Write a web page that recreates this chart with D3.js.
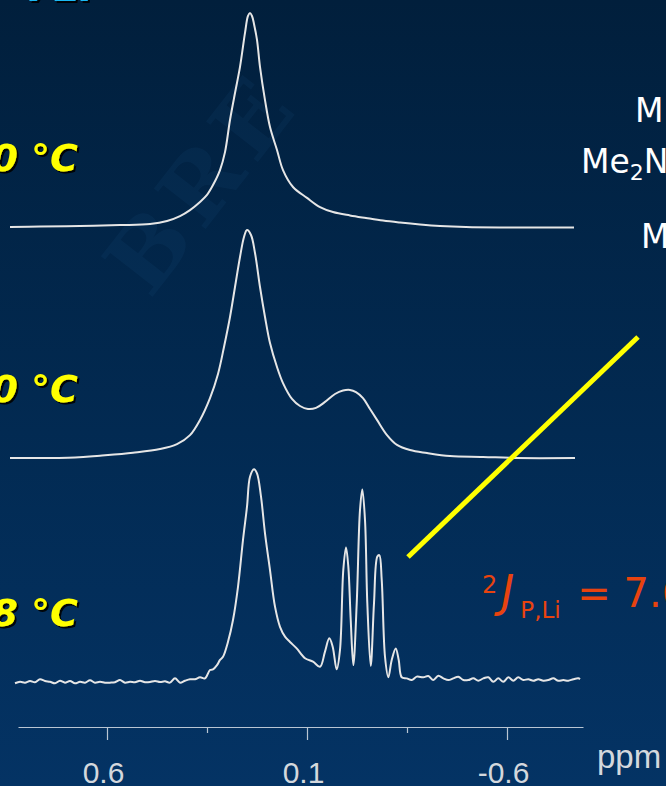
<!DOCTYPE html>
<html>
<head>
<meta charset="utf-8">
<script src="https://cdn.jsdelivr.net/npm/d3@7"></script>
<style>
  html, body { margin: 0; padding: 0; background: #02264a; overflow: hidden; }
  svg { display: block; }
</style>
</head>
<body>
<div id="chart"></div>
<script>
// axis ticks (ppm) and the labels printed under them
const tickPpm = [0.6, 0.35, 0.1, -0.15, -0.4];
const tickLabels = ["0.6", "", "0.1", "", "-0.6"];

// temperature of each trace, top to bottom
const temps = ["\u2212100 \u00b0C", "\u2212110 \u00b0C", "\u2212118 \u00b0C"];

// [ppm, intensity], top trace
const traceTop = [
  [0.8425, 0], [0.7675, 0.2], [0.6675, 0.5], [0.5675, 0.9], [0.4925, 1.4],
  [0.45, 2.8], [0.4175, 5.1], [0.3925, 7.9], [0.3675, 11.7], [0.35, 15.0],
  [0.335, 19.6], [0.3175, 26.6], [0.305, 35.0], [0.2925, 50.0], [0.28, 62.6],
  [0.2675, 74.8], [0.255, 90.7], [0.2475, 98.6], [0.2425, 100], [0.2375, 98.6],
  [0.2325, 94.9], [0.225, 87.4], [0.2175, 74.8], [0.205, 59.3], [0.1925, 46.7],
  [0.175, 36.0], [0.16, 26.6], [0.135, 18.7], [0.1, 13.6], [0.0675, 9.3],
  [0.035, 7.0], [-0.0075, 5.4], [-0.0475, 4.2], [-0.09, 3.0], [-0.1325, 2.1],
  [-0.1825, 1.2], [-0.2325, 0.5], [-0.2975, 0], [-0.3825, -0.2], [-0.5675, -0.2]
];

// middle trace
const traceMid = [
  [0.8425, 0], [0.68, 0.2], [0.6175, 1.1], [0.535, 2.5], [0.4675, 4.2],
  [0.425, 6.5], [0.3925, 10.7], [0.3675, 17.8], [0.3425, 28.0], [0.3225, 39.3],
  [0.3075, 51.9], [0.2925, 65.9], [0.28, 79.9], [0.2675, 93.9], [0.2575, 103.3],
  [0.25, 106.5], [0.24, 104.2], [0.23, 95.8], [0.2175, 79.9], [0.205, 65.9],
  [0.1925, 53.7], [0.175, 42.5], [0.16, 35.0], [0.1375, 27.6], [0.1175, 24.3],
  [0.0975, 22.9], [0.0775, 23.4], [0.055, 26.2], [0.03, 29.9], [0.01, 31.5],
  [-0.0075, 31.8], [-0.0225, 30.8], [-0.04, 28.0], [-0.0575, 22.9], [-0.075, 17.8],
  [-0.1, 10.7], [-0.125, 6.1], [-0.1575, 3.7], [-0.2, 2.3], [-0.2575, 0.9],
  [-0.34, 0.5], [-0.425, 0], [-0.57, 0]
];

// bottom trace (resolved 1:4:6:4:1 pattern plus noise)
const traceLow = [
  [0.83, -0.6], [0.8175, 0.1], [0.805, -0.3], [0.7925, 0.5], [0.78, -0.1],
  [0.7675, 1.3], [0.755, 0.5], [0.7425, 0.1], [0.73, -0.6], [0.7175, 0.6],
  [0.705, -0.3], [0.6925, 0.5], [0.68, -0.6], [0.6675, 0.1], [0.655, -0.3],
  [0.6425, 0.8], [0.63, -0.3], [0.6175, 0.1], [0.605, -0.3], [0.5925, -0.3],
  [0.58, -0.1], [0.5675, 0.9], [0.555, -0.3], [0.5425, 0.1], [0.53, -0.1],
  [0.5175, 0.6], [0.505, -0.1], [0.4925, 0], [0.48, 0.5], [0.4675, 0],
  [0.455, 0.3], [0.4425, -0.3], [0.43, 1.7], [0.4175, -0.3], [0.405, 0.6],
  [0.3925, 1.3], [0.38, 1.3], [0.3675, 2.2], [0.355, 1.7], [0.3425, 5.6],
  [0.335, 5.9], [0.325, 7.9], [0.3175, 10.3], [0.31, 11.8], [0.2975, 18.8],
  [0.285, 29.0], [0.2725, 44.5], [0.26, 66.4], [0.25, 81.9], [0.2425, 95.9],
  [0.2325, 99.4], [0.225, 97.5], [0.215, 86.6], [0.205, 69.5], [0.1925, 52.3],
  [0.18, 35.2], [0.1675, 25.8], [0.155, 21.2], [0.1425, 18.7], [0.1258, 15.7],
  [0.105, 11.1], [0.085, 9.5], [0.0675, 7.1], [0.055, 14.2], [0.0443, 20.4],
  [0.0358, 16.5], [0.0258, 5.9], [0.0175, 15.0], [0.0093, 52.3], [0.0025, 62.9],
  [-0.0033, 53.9], [-0.0093, 29.0], [-0.0158, 7.9], [-0.0243, 36.8], [-0.0325, 80.4],
  [-0.0383, 90.0], [-0.045, 75.7], [-0.0508, 36.8], [-0.0593, 7.5], [-0.0675, 36.8],
  [-0.0758, 58.6], [-0.0808, 59.3], [-0.0868, 47.7], [-0.095, 11.8], [-0.1033, 2.2],
  [-0.1118, 10.3], [-0.1218, 15.7], [-0.1293, 10.3], [-0.1368, 2.2], [-0.1493, 1.7],
  [-0.1618, 0.9], [-0.1743, 2.5], [-0.1908, 2.2], [-0.2033, 2.8], [-0.2158, 0.9],
  [-0.2283, 2.9], [-0.2408, 1.7], [-0.2533, 0.9], [-0.2658, 1.7], [-0.2783, 2.5],
  [-0.2908, 0.9], [-0.3033, 0.9], [-0.3158, 1.7], [-0.3283, 0.6], [-0.3408, 1.7],
  [-0.3533, 2.2], [-0.3658, 0.1], [-0.3783, 1.7], [-0.3908, 0.1], [-0.4033, 2.2],
  [-0.4158, 0.6], [-0.4283, 2.2], [-0.4408, 0.9], [-0.4533, 1.3], [-0.4658, 0.6],
  [-0.4783, 1.3], [-0.4908, 0.6], [-0.5033, 0.9], [-0.5158, 1.7], [-0.5283, 0.6],
  [-0.5408, 0.9], [-0.5533, 0.6], [-0.5658, 1.3], [-0.5783, 1.7], [-0.5825, 1.3]
];

const traces = [traceTop, traceMid, traceLow];

// the yellow pointer line, in ppm / intensity of the bottom trace
const pointerPpm = [-0.1525, -0.7275];
const pointerInt = [58.4, 161.2];

const W = 666, H = 786;

const svg = d3.select("#chart").append("svg")
  .attr("width", W)
  .attr("height", H);

// slide background
const defs = svg.append("defs");
const grad = defs.append("linearGradient")
  .attr("id", "bg")
  .attr("x1", 0).attr("y1", 0).attr("x2", 0).attr("y2", 1);
grad.append("stop").attr("offset", "0%").attr("stop-color", "#011f3c");
grad.append("stop").attr("offset", "55%").attr("stop-color", "#022a52");
grad.append("stop").attr("offset", "100%").attr("stop-color", "#043364");

const shadow = defs.append("filter").attr("id", "shadow")
  .attr("x", "-10%").attr("y", "-10%").attr("width", "130%").attr("height", "130%");
shadow.append("feDropShadow")
  .attr("dx", 2).attr("dy", 2).attr("stdDeviation", 0.6)
  .attr("flood-color", "#000").attr("flood-opacity", 0.9);

svg.append("rect").attr("width", W).attr("height", H).attr("fill", "url(#bg)");

// faint logo watermark
svg.append("text")
  .attr("transform", "translate(150,300) rotate(-52)")
  .attr("font-family", "DejaVu Serif, serif")
  .attr("font-weight", "bold")
  .attr("font-size", 90)
  .attr("letter-spacing", 10)
  .attr("fill", "#2a6aa0")
  .attr("opacity", 0.09)
  .text("BRE");

const x = d3.scaleLinear().domain([0.8225, -0.59]).range([18, 583]);
const baseY = d3.scaleOrdinal().domain(temps).range([227, 458, 682]);
const yI = d3.scaleLinear().domain([0, 100]).range([0, 214]);

const line = (name) => d3.line()
  .x((d) => x(d[0]))
  .y((d) => baseY(name) - yI(d[1]))
  .curve(d3.curveCatmullRom.alpha(0.5));

// spectra
svg.selectAll(".trace")
  .data(temps)
  .enter()
  .append("path")
  .attr("class", "trace")
  .attr("d", (t, i) => line(t)(traces[i]))
  .attr("fill", "none")
  .attr("stroke", "#e6e6e6")
  .attr("stroke-width", 2)
  .attr("stroke-linejoin", "round");

// temperature labels (cut at the left edge, as on the slide)
svg.selectAll(".temp")
  .data(temps)
  .enter()
  .append("text")
  .attr("class", "temp")
  .attr("x", 78)
  .attr("y", (t) => baseY(t) - 56)
  .attr("text-anchor", "end")
  .attr("font-family", "'Comic Sans MS', 'DejaVu Sans', sans-serif")
  .attr("font-style", "italic")
  .attr("font-weight", "bold")
  .attr("font-size", 38)
  .attr("fill", "#ffff00")
  .attr("filter", "url(#shadow)")
  .text((t) => t);

// x axis
const axis = svg.append("g")
  .attr("class", "axis")
  .attr("transform", "translate(0,727)")
  .call(
    d3.axisBottom(x)
      .tickValues(tickPpm)
      .tickFormat((d, i) => tickLabels[i])
      .tickSize(13)
      .tickSizeOuter(0)
      .tickPadding(22)
  );
axis.select(".domain").attr("stroke", "#b9c5d3").attr("stroke-width", 1.2);
axis.selectAll(".tick line")
  .attr("stroke", "#b9c5d3")
  .attr("stroke-width", 1.2)
  .attr("y2", (d, i) => (tickLabels[i] ? 13 : 6));
axis.selectAll(".tick text")
  .attr("dx", -4)
  .attr("fill", "#d4d8dd")
  .attr("font-family", "Arial, 'Liberation Sans', sans-serif")
  .attr("font-size", 30);

svg.append("text")
  .attr("x", 597)
  .attr("y", 768)
  .attr("fill", "#d4d8dd")
  .attr("font-family", "Arial, 'Liberation Sans', sans-serif")
  .attr("font-size", 33)
  .text("ppm");

// cut-off title at the top
svg.append("text")
  .attr("x", 26)
  .attr("y", 1)
  .attr("font-family", "'Comic Sans MS', 'DejaVu Sans', sans-serif")
  .attr("font-style", "italic")
  .attr("font-weight", "bold")
  .attr("font-size", 40)
  .attr("fill", "#1ab8f2")
  .attr("filter", "url(#shadow)")
  .text("7Li");

// structure fragments on the right
const struct = svg.append("g")
  .attr("font-family", "'Comic Sans MS', 'DejaVu Sans', sans-serif")
  .attr("font-size", 33)
  .attr("fill", "#ffffff");
struct.append("text").attr("x", 635).attr("y", 122)
  .attr("letter-spacing", 7).text("Me");
const me2n = struct.append("text").attr("x", 581).attr("y", 173);
me2n.append("tspan").text("Me");
me2n.append("tspan").attr("font-size", 22).attr("dy", 7).text("2");
me2n.append("tspan").attr("dy", -7).text("N\u2013P");
struct.append("text").attr("x", 641).attr("y", 248)
  .attr("letter-spacing", 7).text("Me");

// pointer line
svg.append("line")
  .attr("x1", x(pointerPpm[0]))
  .attr("y1", baseY(temps[2]) - yI(pointerInt[0]))
  .attr("x2", x(pointerPpm[1]))
  .attr("y2", baseY(temps[2]) - yI(pointerInt[1]))
  .attr("stroke", "#ffff00")
  .attr("stroke-width", 5);

// coupling constant
const jText = svg.append("text")
  .attr("x", 482)
  .attr("y", 607)
  .attr("font-family", "'Comic Sans MS', 'DejaVu Sans', sans-serif")
  .attr("fill", "#e8430f")
  .attr("font-size", 40);
jText.append("tspan").attr("font-size", 24).attr("dy", -14).text("2");
jText.append("tspan").attr("dy", 14).attr("dx", 4)
  .attr("font-size", 44).attr("font-style", "italic").text("J");
jText.append("tspan").attr("font-size", 23).attr("dy", 11).attr("dx", 6).text("P,Li");
jText.append("tspan").attr("dy", -11).attr("dx", 4).text(" = 7.6 Hz");
</script>
</body>
</html>
